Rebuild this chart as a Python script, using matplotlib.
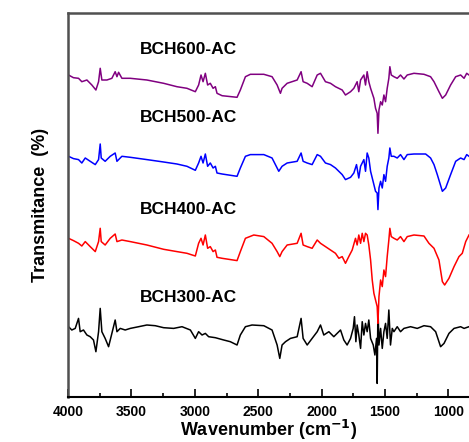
import matplotlib.pyplot as plt
from matplotlib.ticker import MultipleLocator

plt.rcParams['font.family'] = ['Liberation Sans', 'DejaVu Sans']

# FTIR spectra, wavenumber (cm-1) and transmittance relative to each trace's own baseline
wn_600 = [3996, 3957, 3917, 3891, 3851, 3812, 3780, 3759, 3746, 3733, 3693, 3654, 3628, 3614,
          3601, 3575, 3509, 3378, 3246, 3141, 3062, 2996, 2970, 2951, 2935, 2917, 2899, 2878,
          2856, 2838, 2825, 2785, 2667, 2641, 2601, 2562, 2456, 2391, 2351, 2325, 2312, 2272,
          2193, 2162, 2146, 2114, 2075, 2035, 2009, 1970, 1930, 1891, 1838, 1812, 1772, 1746,
          1720, 1707, 1693, 1667, 1654, 1641, 1628, 1614, 1588, 1575, 1562, 1556, 1548, 1535,
          1522, 1509, 1496, 1483, 1470, 1462, 1451, 1430, 1404, 1378, 1351, 1325, 1272, 1193,
          1141, 1114, 1075, 1048, 1022, 983, 943, 904, 877, 856, 838]
t_600 = [0, -2.7, -3.3, -6.7, -5, -10, -15, -6.7, 6.7, -5, -5, -3.3, 3.3, -1.7,
         2.7, -3.3, -3.3, -5, -8.3, -11.7, -13.3, -16.7, -10, 0, -6.7, 1.7, -10, -8.3,
         -13.3, -11.7, -18.3, -20.7, -22.3, -15, -1.7, 0.7, 0.7, -1.7, -10, -18.3, -13.3, -8.3,
         -5, 3.3, -6.7, -8.3, -11.7, 0, 1.7, -6.7, -8.3, -11.7, -15, -20, -16.7, -13.3,
         -6.7, -16.7, -5, 0, -10, 3.3, -6.7, -13.3, -23.3, -33.3, -38.3, -58.3, -35, -26.7,
         -30, -20, -26.7, -13.3, -3.3, 8.3, 0, -1.7, -3.3, 0, -4, 0, 1.7, 0.7,
         -1.7, -6.7, -16.7, -23.3, -20, -10, -1.7, 0, -3.3, 1.7, 0]

wn_500 = [3996, 3957, 3917, 3891, 3864, 3825, 3785, 3759, 3746, 3738, 3707, 3667, 3628, 3614,
          3575, 3509, 3378, 3246, 3141, 3062, 2996, 2970, 2951, 2935, 2917, 2899, 2878, 2856,
          2838, 2825, 2785, 2667, 2641, 2601, 2562, 2456, 2391, 2351, 2338, 2312, 2272, 2193,
          2162, 2146, 2114, 2075, 2035, 2009, 1970, 1930, 1891, 1838, 1812, 1772, 1746, 1725,
          1707, 1693, 1667, 1654, 1641, 1628, 1614, 1588, 1575, 1562, 1556, 1548, 1535, 1522,
          1509, 1496, 1483, 1470, 1462, 1451, 1430, 1404, 1378, 1351, 1325, 1272, 1180, 1141,
          1114, 1088, 1048, 1022, 983, 943, 904, 877, 856, 838]
t_500 = [0, -2.3, -3.3, -6.7, -1.7, -5, -8.3, -3.3, 12.3, -1.7, -5, 0, 3.3, -5,
         0, -1, -3.3, -5.7, -7.7, -10, -14, -6.7, 0, -6.7, 2.3, -10, -6.7, -11.7,
         -10, -16.7, -17.7, -20, -11.7, 0, 1.7, 1.7, -1.7, -11.7, -15, -10, -6.7, -5,
         3.3, -5, -6.7, -8.3, 1.7, 0, -6.7, -8.3, -11.7, -18.3, -23.3, -21, -16.7, -8.3,
         -21.7, -10, -3.3, -15, 3.3, -1.7, -15, -28.3, -35, -36.7, -53.3, -31.7, -25, -31.7,
         -18.3, -25, -10, -1.7, 8.3, 0, 0, -1.7, 1.7, -3.3, 1.7, 2.3, 2.3, -1.7,
         -8.3, -18.3, -35, -31.7, -18.3, -5, -1.7, -3.3, 1.7, 0]

wn_400 = [3996, 3957, 3917, 3891, 3864, 3825, 3785, 3759, 3746, 3738, 3707, 3667, 3628, 3614,
          3575, 3509, 3378, 3246, 3141, 3062, 2996, 2970, 2951, 2935, 2917, 2899, 2878, 2856,
          2838, 2825, 2785, 2667, 2641, 2601, 2535, 2456, 2391, 2351, 2330, 2312, 2272, 2193,
          2162, 2146, 2114, 2075, 2035, 2009, 1970, 1930, 1891, 1864, 1838, 1812, 1786, 1759,
          1733, 1720, 1707, 1693, 1680, 1667, 1654, 1641, 1628, 1614, 1601, 1588, 1575, 1562,
          1556, 1548, 1535, 1522, 1509, 1496, 1483, 1470, 1462, 1451, 1430, 1404, 1378, 1351,
          1325, 1272, 1193, 1154, 1114, 1075, 1048, 1030, 996, 956, 917, 891, 864, 838]
t_400 = [0, -2.3, -5, -7.7, -3.3, -8.3, -13.3, -3.3, 10, -3.3, -6.7, 0, 4.3, -3.3,
         -1.7, -3.3, -6.7, -11, -13.3, -15, -17.7, -5, 0, -6.7, 3.3, -10, -8.3, -13.3,
         -11.7, -19, -20, -22.3, -13.3, 0, 3.3, 1.7, -5, -13.3, -18.3, -13.3, -6.7, -5,
         5, -6.7, -8.3, -10, -1.7, -5, -8.3, -11.7, -15, -20, -18.3, -25, -18.3, -11.7,
         0, -6.7, 3.3, -5, 5, -3.3, 5, 3.3, -6.7, -21.7, -41.7, -55, -61.7, -68.3,
         -85, -58.3, -41.7, -48.3, -31.7, -38.3, -18.3, -1.7, 10, 1.7, 0, -1.7, 1.7, -3.3,
         1.7, 3.3, 2.3, -5, -10, -21.7, -43.3, -46.7, -40, -28.3, -18.3, -15, -3.3, 3.3]

wn_300 = [3996, 3970, 3943, 3917, 3904, 3878, 3851, 3825, 3799, 3780, 3759, 3746, 3733, 3707,
          3680, 3654, 3628, 3614, 3588, 3549, 3509, 3443, 3378, 3312, 3246, 3167, 3101, 3035,
          2996, 2970, 2943, 2917, 2891, 2838, 2772, 2720, 2667, 2641, 2601, 2549, 2456, 2391,
          2351, 2330, 2312, 2285, 2246, 2193, 2162, 2146, 2114, 2075, 2035, 2009, 1983, 1943,
          1904, 1851, 1825, 1799, 1772, 1751, 1741, 1730, 1720, 1707, 1693, 1680, 1667, 1654,
          1641, 1628, 1614, 1593, 1580, 1567, 1562, 1556, 1548, 1535, 1522, 1509, 1496, 1483,
          1470, 1457, 1443, 1430, 1404, 1378, 1351, 1299, 1246, 1193, 1141, 1101, 1062, 1035,
          996, 956, 904, 877, 838]
t_300 = [0, -3.3, -1.7, 8.3, -5, -3.3, -8.3, -10, -13.3, -25, -5, 18.3, -5, -11.7,
         -20, -6.7, 6.7, -5, -1.7, -3.3, -1.7, 0, 1.7, 1, -1, -1.7, 0, -3.3,
         -11.7, -5, -8.3, -6.7, -10, -11, -13.3, -15, -18.3, -8.3, 0, 1.7, 1, -3.3,
         -18.3, -31.7, -18.3, -15, -11.7, -10, 8.3, -11.7, -18.3, -11.7, -5, 1.7, -8.3, -5,
         -10, -3.3, -13.3, -18.3, -11.7, -1.7, 10, -15, 1.7, -8.3, -21.7, 5, -8.3, 3.3,
         -5, 6.7, -11.7, -18.3, -28.3, -11.7, -56.7, 20, -18.3, -1.7, -21.7, -5, 3.3, -11.7,
         16.7, -18.3, -1.7, -5, 0, -5, -1.7, 0, -1.7, 1, 0, -5, -20, -16.7,
         -6.7, -1.7, 0, -1.7, 0]

names = ['BCH300-AC', 'BCH400-AC', 'BCH500-AC', 'BCH600-AC']
colors = ['black', 'red', 'blue', 'purple']
offsets = [70.3, 158.7, 240.7, 322]
label_y = [99, 187, 279, 348]

fig = plt.figure(figsize=(4.69, 4.42), dpi=100)
ax = fig.add_axes([68 / 469, 45 / 442, 401 / 469, 384 / 442])

spectra = [(wn_300, t_300), (wn_400, t_400), (wn_500, t_500), (wn_600, t_600)]
for (wn, t), off, c, name, ly in zip(spectra, offsets, colors, names, label_y):
    ax.plot(wn, [v + off for v in t], color=c, lw=1.1)
    ax.text(3050, ly, name, ha='center', va='center', fontsize=12.5,
            fontweight='bold')

ax.set_xlim(4000, 838)
ax.set_ylim(0, 384)
ax.xaxis.set_major_locator(MultipleLocator(500))
ax.xaxis.set_minor_locator(MultipleLocator(250))
ax.set_yticks([])
ax.tick_params(axis='x', which='major', direction='in', length=6, width=1.2,
               labelsize=10, pad=6)
ax.tick_params(axis='x', which='minor', direction='in', length=3, width=1.2)
for lbl in ax.get_xticklabels():
    lbl.set_fontweight('bold')

ax.spines['right'].set_visible(False)
ax.spines['left'].set_color('#505050')
ax.spines['left'].set_linewidth(1.8)
ax.spines['top'].set_color('#505050')
ax.spines['top'].set_linewidth(1.8)
ax.spines['bottom'].set_linewidth(1.5)

ax.set_xlabel('Wavenumber (cm$^{\\mathbf{-1}}$)', fontsize=13, fontweight='bold',
              labelpad=-1)
ax.set_ylabel('Transmitance  (%)', fontsize=13, fontweight='bold', labelpad=14)

plt.savefig('out.png', dpi=100)
